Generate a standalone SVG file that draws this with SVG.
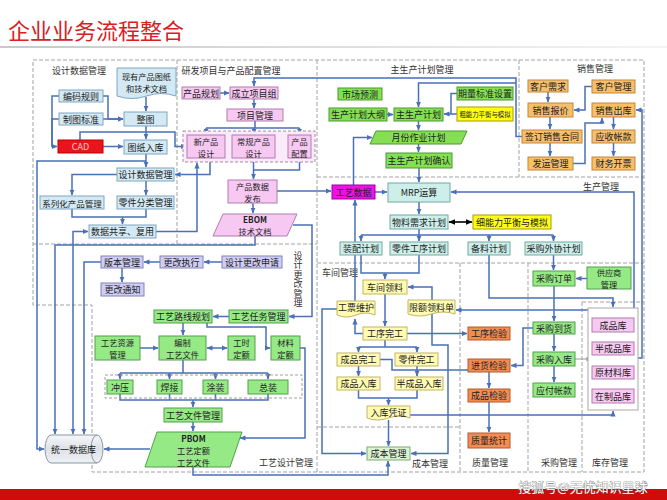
<svg xmlns="http://www.w3.org/2000/svg" width="667" height="500" viewBox="0 0 667 500">
<defs>
<marker id="a" viewBox="0 0 6 6" refX="5.5" refY="3" markerWidth="6" markerHeight="6" markerUnits="userSpaceOnUse" orient="auto-start-reverse"><path d="M0,0.4 L6,3 L0,5.6 z" fill="#4a70b8"/></marker>
<marker id="k" viewBox="0 0 6 6" refX="5.5" refY="3" markerWidth="7" markerHeight="7" markerUnits="userSpaceOnUse" orient="auto-start-reverse"><path d="M0,0.4 L6,3 L0,5.6 z" fill="#000"/></marker>
<marker id="g" viewBox="0 0 6 6" refX="5.5" refY="3" markerWidth="5" markerHeight="5" markerUnits="userSpaceOnUse" orient="auto"><path d="M0,0.4 L6,3 L0,5.6 z" fill="#999"/></marker>
<linearGradient id="cyl" x1="0" y1="0" x2="0" y2="1"><stop offset="0" stop-color="#f6f7f9"/><stop offset="0.5" stop-color="#dde2e8"/><stop offset="1" stop-color="#eef1f4"/></linearGradient>
<linearGradient id="hl" x1="0" y1="0" x2="1" y2="0"><stop offset="0" stop-color="#c8c8c8"/><stop offset="1" stop-color="#f4f4f4"/></linearGradient>
</defs>
<style>
text{font-family:"Noto Sans CJK SC","Noto Sans",sans-serif;font-size:9px;fill:#222;text-anchor:middle;dominant-baseline:central}
text.m{font-size:8.2px}
.lb{fill:#333}
.r{fill:none;stroke:#a3a3a3;stroke-width:1;stroke-dasharray:4 2}
.c{fill:none;stroke:#4a70b8;stroke-width:1.5;marker-end:url(#a)}
.cc{fill:none;stroke:#4a70b8;stroke-width:1.5;marker-end:url(#a);marker-start:url(#a)}
.n{fill:none;stroke:#4a70b8;stroke-width:1.5}
.bl{fill:#d3e9f3;stroke:#7fa6c4}
.pk{fill:#f6c8f2;stroke:#b27db0}
.gr{fill:#84e052;stroke:#4c9a2e}
.lg{fill:#96ea86;stroke:#52a04c}
.or{fill:#f7bf6a;stroke:#c2873a}
.ye{fill:#ffff14;stroke:#a89c00}
.te{fill:#cdeee9;stroke:#72aaa5}
.ly{fill:#fffbb0;stroke:#c4b462}
.qa{fill:#f28c52;stroke:#b65a2a}
.lv{fill:#cfcdf3;stroke:#8482b8}
.pc{fill:#d9f2d0;stroke:#7cae72}
</style>
<rect width="667" height="500" fill="#fff"/>
<text x="8" y="29" style="font-size:22px;fill:#d9201e;text-anchor:start">企业业务流程整合</text>
<rect x="0" y="46" width="667" height="2" fill="url(#hl)"/>

<g id="regions">
<path class="r" d="M33,60 H644 V472 H92 V305 H33 Z"/>
<path class="r" d="M177,60 V244 M33,244 H317 M317,60 V472 M519,60 V177 M317,177 H644 M317,263 H644 M460,263 V472 M528,263 V472 M582,302 V472 M582,302 H644 M317,427 H460"/>
<text class="lb" x="79" y="70">设计数据管理</text>
<text class="lb" x="231" y="70">研发项目与产品配置管理</text>
<text class="lb" x="422" y="69">主生产计划管理</text>
<text class="lb" x="595" y="68">销售管理</text>
<text class="lb" x="601" y="186">生产管理</text>
<text class="lb" x="340" y="272">车间管理</text>
<text class="lb" x="286" y="462">工艺设计管理</text>
<text class="lb" x="430" y="463">成本管理</text>
<text class="lb" x="490" y="462">质量管理</text>
<text class="lb" x="559" y="462">采购管理</text>
<text class="lb" x="610" y="462">库存管理</text>
<text class="lb" x="298" y="251" style="writing-mode:vertical-rl;text-anchor:start;letter-spacing:0.5px">设计更改管理</text>
</g>

<g id="connectors">
<path class="n" d="M59,96 H52 V146.5"/><path class="c" d="M59,119 H52 V146.5 H57"/>
<path class="c" d="M103,96 H108 V119 H123"/><path class="c" d="M103,119 H123"/>
<path class="c" d="M146,97 V111"/>
<path class="c" d="M146,126 V139"/>
<path class="c" d="M103,146.5 H123"/>
<path class="c" d="M80,140 V132 H175 V146.5 H186"/>
<path class="c" d="M146,154 V167"/>
<path class="c" d="M146,161 H37 V449 H44"/>
<path class="c" d="M117,174.5 H72 V195"/>
<path class="c" d="M146,181 V195"/>
<path class="n" d="M72,209 V217 H146 V209"/><path class="c" d="M122.5,217 V224"/>
<path class="c" d="M210,158 V174.5 H175"/>
<path class="c" d="M156,231.5 H197 V163"/>
<path class="c" d="M220,93 H229"/>
<path class="c" d="M254,99 V108"/>
<path class="n" d="M255,121 V128 M206,128 H299.5"/><path class="c" d="M206,128 V134"/><path class="c" d="M254,128 V134"/><path class="c" d="M299.5,128 V134"/>
<path class="c" d="M253.5,158 V179"/><path class="n" d="M299.5,158 V170 H253.5"/>
<path class="c" d="M277,191 H331"/>
<path class="c" d="M253,203 V213"/>
<path class="c" d="M293,225 H312 V316.5 H289"/>
<path class="c" d="M255,236 V245 H55 V434"/>
<path class="cc" d="M88,231.5 H73 V434"/>
<path class="c" d="M101,262 H84 V434"/>
<path class="c" d="M222,262 H204"/>
<path class="c" d="M160,262 H144"/>
<path class="c" d="M122,268 V282"/>
<path class="c" d="M229,316.5 H213"/>
<path class="c" d="M183,323 V335"/>
<path class="c" d="M207,323 V327 H266 V348 H270"/>
<path class="c" d="M140,348 H158"/>
<path class="cc" d="M207,348 H227"/>
<path class="n" d="M183,360 V373 M120,373 H268"/><path class="c" d="M120,373 V379"/><path class="c" d="M169.5,373 V379"/><path class="c" d="M215.5,373 V379"/><path class="c" d="M268,373 V379"/>
<path class="n" d="M120,394 V400 H268 V394 M169.5,394 V400 M215.5,394 V400"/><path class="c" d="M193,400 V407"/>
<path class="c" d="M193,422 V431"/>
<path class="c" d="M150,449 H104"/>
<path class="c" d="M300,348 H305 V438 H240"/>
<path class="c" d="M193,467 V475 H388 V461"/>
<path class="c" d="M522,136.5 H516 V78 H254 V86"/>
<path class="c" d="M516,83 H418.5 V107"/>
<path class="n" d="M457,93.5 H451 V114"/>
<path class="c" d="M457,114 H444"/>
<path class="c" d="M387,114.5 H393"/>
<path class="c" d="M418.5,121 V130"/>
<path class="c" d="M418.5,144 V152"/>
<path class="c" d="M419,168 V182"/>
<path class="c" d="M353.5,185 V137.5 H372"/>
<path class="c" d="M375,192 H387"/>
<path class="c" d="M363,333.5 H355 V319"/>
<path class="c" d="M355,301 V200"/>
<path class="c" d="M419,202 V214"/>
<path d="M449,222 H472" fill="none" stroke="#000" stroke-width="1.6" marker-start="url(#k)" marker-end="url(#k)"/>
<path class="n" d="M419,229 V235 M361,235 H553.5"/><path class="c" d="M361,235 V241"/><path class="c" d="M419,235 V241"/><path class="c" d="M489,235 V241"/><path class="c" d="M553.5,235 V241"/>
<path class="n" d="M361,255 V273 H419 V255"/><path class="c" d="M385,273 V279"/>
<path class="c" d="M553.5,255 V270"/>
<path class="c" d="M489,255 V298 H613 V307"/>
<path class="c" d="M587,278.5 H576"/>
<path class="c" d="M554,286 V321"/>
<path class="c" d="M554,334 V351"/>
<path class="c" d="M554,366 V382"/>
<path class="c" d="M533,328 H523 V365.5 H511"/>
<path d="M575,359 H591" fill="none" stroke="#999" stroke-width="1" marker-end="url(#g)"/>
<path class="c" d="M588,310 H456"/>
<path class="c" d="M432,300 V287 H408"/>
<path class="c" d="M385,294 V326"/>
<path class="c" d="M407,333.5 H467"/>
<path class="n" d="M385,340 V347 M358.5,347 H417"/><path class="c" d="M358.5,347 V352"/><path class="c" d="M417,347 V352"/>
<path class="c" d="M358.5,366 V376"/><path class="c" d="M417,366 V376"/>
<path class="c" d="M380,359.5 H392 V370 H489 V388"/>
<path class="c" d="M489,402 V432"/>
<path class="n" d="M358.5,390 V398 H417 V390"/><path class="c" d="M388.5,398 V405"/>
<path class="c" d="M388.5,420 V446"/>
<path class="c" d="M410,415 H613 V411"/>
<path class="c" d="M337,309 H322 V453.5 H366"/>
<path class="c" d="M432,314 V345 H448 V453.5 H411"/>
<path class="c" d="M634,308 V192 H451"/>
<path class="c" d="M638,358 H642 V110 H636"/>
<path class="c" d="M548,92 V102"/>
<path class="c" d="M550,117 V129"/>
<path class="c" d="M550,143 V156"/>
<path class="c" d="M592,86.5 H585 V110 H574"/>
<path class="c" d="M573,163.5 H585 V123 H602 V118"/>
<path class="c" d="M613.5,117 V129"/>
<path class="c" d="M613.5,143 V156"/>
</g>

<g id="n-doc"><path class="bl" d="M117,68 H176 V96 Q161,91 146.5,96 T117,96 Z"/><text class="m"><tspan x="146.5" y="76">现有产品图纸</tspan><tspan x="146.5" y="88">和技术文档</tspan></text></g>
<g id="n-bmgz"><rect class="bl" x="59" y="90" width="44" height="12"/><text x="81" y="96">编码规则</text></g>
<g id="n-ztbz"><rect class="bl" x="59" y="113" width="44" height="12"/><text x="81" y="119">制图标准</text></g>
<g id="n-zt"><rect class="bl" x="124" y="112" width="43" height="14"/><text x="145.5" y="119">整图</text></g>
<g id="n-cad"><rect x="58" y="140" width="45" height="13" fill="#e8161c" stroke="#b00"/><text x="80.5" y="146.5" style="fill:#fcc">CAD</text></g>
<g id="n-tzrk"><rect class="bl" x="124" y="140" width="43" height="14"/><text x="145.5" y="147">图纸入库</text></g>
<g id="n-sjsjgl"><rect class="bl" x="117" y="168" width="57" height="13"/><text x="145.5" y="174.5">设计数据管理</text></g>
<g id="n-xlh"><rect class="bl" x="40" y="196" width="64" height="13"/><text x="72" y="202.5" style="font-size:8.5px">系列化产品管理</text></g>
<g id="n-ljfl"><rect class="bl" x="117" y="196" width="57" height="13"/><text x="145.5" y="202.5">零件分类管理</text></g>
<g id="n-sjgx"><rect class="bl" x="89" y="225" width="67" height="13"/><text x="122.5" y="231.5">数据共享、复用</text></g>

<g id="n-cpgh"><rect class="pk" x="182" y="87" width="38" height="12"/><text x="201" y="93">产品规划</text></g>
<g id="n-clxmz"><rect class="pk" x="230" y="87" width="48" height="12"/><text x="254" y="93">成立项目组</text></g>
<g id="n-xmgl"><rect class="pk" x="227" y="109" width="56" height="12"/><text x="255" y="115">项目管理</text></g>
<g id="n-design-group"><rect x="183" y="131" width="132" height="31" fill="#fbeaf9" stroke="#a58aa8" stroke-dasharray="3 2"/></g>
<g id="n-xcpsj"><rect class="pk" x="187" y="135" width="38" height="23"/><text class="m"><tspan x="206" y="140.5">新产品</tspan><tspan x="206" y="152.5">设计</tspan></text></g>
<g id="n-cgcpsj"><rect class="pk" x="232" y="135" width="43" height="23"/><text class="m"><tspan x="253.5" y="140.5">常规产品</tspan><tspan x="253.5" y="152.5">设计</tspan></text></g>
<g id="n-cppz"><rect class="pk" x="288" y="135" width="23" height="23"/><text class="m"><tspan x="299.5" y="140.5">产品</tspan><tspan x="299.5" y="152.5">配置</tspan></text></g>
<g id="n-cpsjfb"><rect class="pk" x="228" y="180" width="49" height="23"/><text class="m"><tspan x="252.5" y="185.5">产品数据</tspan><tspan x="252.5" y="197.5">发布</tspan></text></g>
<g id="n-ebom"><polygon class="pk" points="223,214 297,214 287,236 213,236"/><text class="m"><tspan x="255" y="219" style="font-weight:bold">EBOM</tspan><tspan x="255" y="231">技术文档</tspan></text></g>

<g id="n-bbgl"><rect class="lv" x="101" y="256" width="42" height="12"/><text x="122" y="262">版本管理</text></g>
<g id="n-ggzx"><rect class="lv" x="160" y="256" width="43" height="12"/><text x="181.5" y="262">更改执行</text></g>
<g id="n-sjggsq"><rect class="lv" x="222" y="256" width="60" height="12"/><text x="252" y="262">设计更改申请</text></g>
<g id="n-ggtz"><rect class="lv" x="101" y="283" width="43" height="13"/><text x="122.5" y="289.5">更改通知</text></g>

<g id="n-gylxgh"><rect class="lg" x="154" y="310" width="58" height="13"/><text x="183" y="316.5">工艺路线规划</text></g>
<g id="n-gyrwgl"><rect class="lg" x="229" y="310" width="59" height="13"/><text x="258.5" y="316.5">工艺任务管理</text></g>
<g id="n-gyzygl"><rect class="lg" x="95" y="336" width="45" height="24"/><text class="m"><tspan x="117.5" y="342">工艺资源</tspan><tspan x="117.5" y="354">管理</tspan></text></g>
<g id="n-bzgywj"><rect class="lg" x="159" y="336" width="47" height="24"/><text class="m"><tspan x="182.5" y="342">编制</tspan><tspan x="182.5" y="354">工艺文件</tspan></text></g>
<g id="n-gsde"><rect class="lg" x="228" y="336" width="27" height="24"/><text class="m"><tspan x="241.5" y="342">工时</tspan><tspan x="241.5" y="354">定额</tspan></text></g>
<g id="n-clde"><rect class="lg" x="271" y="336" width="29" height="24"/><text class="m"><tspan x="285.5" y="342">材料</tspan><tspan x="285.5" y="354">定额</tspan></text></g>
<g id="n-proc-group"><rect x="105" y="375" width="197" height="23" fill="none" stroke="#a0a0a0" stroke-dasharray="3 2"/></g>
<g id="n-cy"><rect class="lg" x="107" y="380" width="26" height="14"/><text x="120" y="387">冲压</text></g>
<g id="n-hj"><rect class="lg" x="157" y="380" width="25" height="14"/><text x="169.5" y="387">焊接</text></g>
<g id="n-tz"><rect class="lg" x="203" y="380" width="25" height="14"/><text x="215.5" y="387">涂装</text></g>
<g id="n-zz"><rect class="lg" x="248" y="380" width="40" height="14"/><text x="268" y="387">总装</text></g>
<g id="n-gywjgl"><rect class="lg" x="164" y="408" width="58" height="14"/><text x="193" y="415">工艺文件管理</text></g>
<g id="n-pbom"><polygon class="lg" points="157,432 242,432 230,467 145,467"/><text class="m"><tspan x="193.5" y="437.5" style="font-weight:bold">PBOM</tspan><tspan x="193.5" y="449.5">工艺定额</tspan><tspan x="193.5" y="461.5">工艺文件</tspan></text></g>
<g id="n-db"><path d="M51,435 H97 A6,14 0 0 1 97,463 H51 A6,14 0 0 1 51,435 Z" fill="url(#cyl)" stroke="#8a98a8"/><path d="M97,435 A6,14 0 0 0 97,463" fill="none" stroke="#8a98a8"/><text x="73.5" y="449">统一数据库</text></g>

<g id="n-scyc"><rect class="gr" x="338" y="88" width="44" height="12"/><text x="360" y="94">市场预测</text></g>
<g id="n-qlbz"><rect class="gr" x="457" y="87" width="56" height="13"/><text x="485" y="93.5">期量标准设置</text></g>
<g id="n-scjhdg"><rect class="gr" x="329" y="108" width="58" height="13"/><text x="358" y="114.5">生产计划大纲</text></g>
<g id="n-zscjh"><rect class="gr" x="394" y="108" width="49" height="13"/><text x="418.5" y="114.5">主生产计划</text></g>
<g id="n-cnl"><rect class="ye" x="457" y="107" width="56" height="14"/><text x="485" y="114" style="font-size:6.4px">粗能力平衡与模拟</text></g>
<g id="n-yfzyjh"><polygon class="gr" points="376,131 467,131 461,144 370,144"/><text x="418.5" y="137.5">月份作业计划</text></g>
<g id="n-zscjhqr"><rect class="gr" x="386" y="153" width="66" height="15"/><text x="419" y="160.5">主生产计划确认</text></g>

<g id="n-khxq"><rect class="or" x="528" y="80" width="40" height="12"/><text x="548" y="86">客户需求</text></g>
<g id="n-khgl"><rect class="or" x="592" y="80" width="43" height="13"/><text x="613.5" y="86.5">客户管理</text></g>
<g id="n-xsbj"><rect class="or" x="528" y="103" width="45" height="14"/><text x="550.5" y="110">销售报价</text></g>
<g id="n-xsck"><rect class="or" x="592" y="103" width="43" height="14"/><text x="613.5" y="110">销售出库</text></g>
<g id="n-qdxsht"><rect class="or" x="522" y="130" width="60" height="13"/><text x="552" y="136.5">签订销售合同</text></g>
<g id="n-yszk"><rect class="or" x="592" y="130" width="43" height="13"/><text x="613.5" y="136.5">应收帐款</text></g>
<g id="n-fygl"><rect class="or" x="528" y="157" width="45" height="13"/><text x="550.5" y="163.5">发运管理</text></g>
<g id="n-cwkp"><rect class="or" x="592" y="157" width="43" height="13"/><text x="613.5" y="163.5">财务开票</text></g>

<g id="n-gysj"><rect x="332" y="185" width="43" height="14" fill="#f010e6" stroke="#a000a0"/><text x="353.5" y="192">工艺数据</text></g>
<g id="n-mrp"><rect class="te" x="388" y="183" width="62" height="19"/><text x="419" y="192.5">MRP运算</text></g>
<g id="n-wlxqjh"><rect class="te" x="390" y="215" width="58" height="14"/><text x="419" y="222">物料需求计划</text></g>
<g id="n-xnl"><rect class="ye" x="473" y="215" width="78" height="14"/><text x="512" y="222">细能力平衡与模拟</text></g>
<g id="n-zpjh"><rect class="te" x="340" y="242" width="42" height="13"/><text x="361" y="248.5">装配计划</text></g>
<g id="n-ljgxjh"><rect class="te" x="390" y="242" width="58" height="13"/><text x="419" y="248.5">零件工序计划</text></g>
<g id="n-bljh"><rect class="te" x="468" y="242" width="42" height="13"/><text x="489" y="248.5">备料计划</text></g>
<g id="n-cgwxjh"><rect class="te" x="525" y="242" width="57" height="13"/><text x="553.5" y="248.5">采购外协计划</text></g>

<g id="n-cjll"><rect class="ly" x="363" y="280" width="44" height="14"/><text x="385" y="287">车间领料</text></g>
<g id="n-gpwh"><path class="ly" d="M337,301 H375 V315 Q365.5,311 356,315 T337,315 Z"/><text x="356" y="307.5">工票维护</text></g>
<g id="n-xelld"><path class="ly" d="M408,300 H455 V314 Q443.25,310 431.5,314 T408,314 Z"/><text x="431.5" y="307">限额领料单</text></g>
<g id="n-gxwg"><rect class="ly" x="363" y="327" width="44" height="13"/><text x="385" y="333.5">工序完工</text></g>
<g id="n-cpwg"><rect class="ly" x="337" y="353" width="43" height="13"/><text x="358.5" y="359.5">成品完工</text></g>
<g id="n-ljwg"><rect class="ly" x="395" y="353" width="43" height="13"/><text x="416.5" y="359.5">零件完工</text></g>
<g id="n-cprk"><rect class="ly" x="337" y="377" width="43" height="13"/><text x="358.5" y="383.5">成品入库</text></g>
<g id="n-bcprk"><rect class="ly" x="395" y="377" width="48" height="13"/><text x="419" y="383.5">半成品入库</text></g>
<g id="n-rkpz"><path class="ly" d="M367,406 H410 V418 Q399.25,414 388.5,418 T367,418 Z"/><text x="388.5" y="412">入库凭证</text></g>
<g id="n-cbgl"><rect class="pc" x="367" y="447" width="43" height="13"/><text x="388.5" y="453.5">成本管理</text></g>

<g id="n-gxjy"><rect class="qa" x="468" y="327" width="42" height="13"/><text x="489" y="333.5">工序检验</text></g>
<g id="n-jhjy"><rect class="qa" x="468" y="359" width="42" height="13"/><text x="489" y="365.5">进货检验</text></g>
<g id="n-cpjy"><rect class="qa" x="468" y="389" width="42" height="13"/><text x="489" y="395.5">成品检验</text></g>
<g id="n-zltj"><rect class="qa" x="468" y="433" width="42" height="15"/><text x="489" y="440.5">质量统计</text></g>

<g id="n-cgdd"><rect class="lg" x="533" y="271" width="42" height="15"/><text x="554" y="278.5">采购订单</text></g>
<g id="n-gysgl"><rect class="lg" x="587" y="267" width="44" height="22"/><text class="m"><tspan x="609" y="272">供应商</tspan><tspan x="609" y="284">管理</tspan></text></g>
<g id="n-cgdh"><rect class="lg" x="533" y="322" width="42" height="12"/><text x="554" y="328">采购到货</text></g>
<g id="n-cgrk"><rect class="lg" x="533" y="352" width="42" height="14"/><text x="554" y="359">采购入库</text></g>
<g id="n-yfzk"><rect class="lg" x="533" y="383" width="42" height="14"/><text x="554" y="390">应付帐款</text></g>

<g id="n-kc"><rect x="588" y="308" width="50" height="102" fill="#fff" stroke="#a8a8a8"/></g>
<g id="n-cpk"><rect class="pk" x="592" y="318" width="42" height="14"/><text x="613" y="325">成品库</text></g>
<g id="n-bcpk"><rect class="pk" x="592" y="342" width="42" height="13"/><text x="613" y="348.5">半成品库</text></g>
<g id="n-yclk"><rect class="pk" x="592" y="366" width="42" height="13"/><text x="613" y="372.5">原材料库</text></g>
<g id="n-zzpk"><rect class="pk" x="592" y="389" width="42" height="14"/><text x="613" y="396">在制品库</text></g>

<rect x="0" y="489" width="667" height="11" fill="#d10a0a"/>
<text x="583" y="486" style="font-size:13px;fill:#fff;stroke:#555;stroke-width:0.6px;paint-order:stroke">搜狐号@无忧知识星球</text>
</svg>
